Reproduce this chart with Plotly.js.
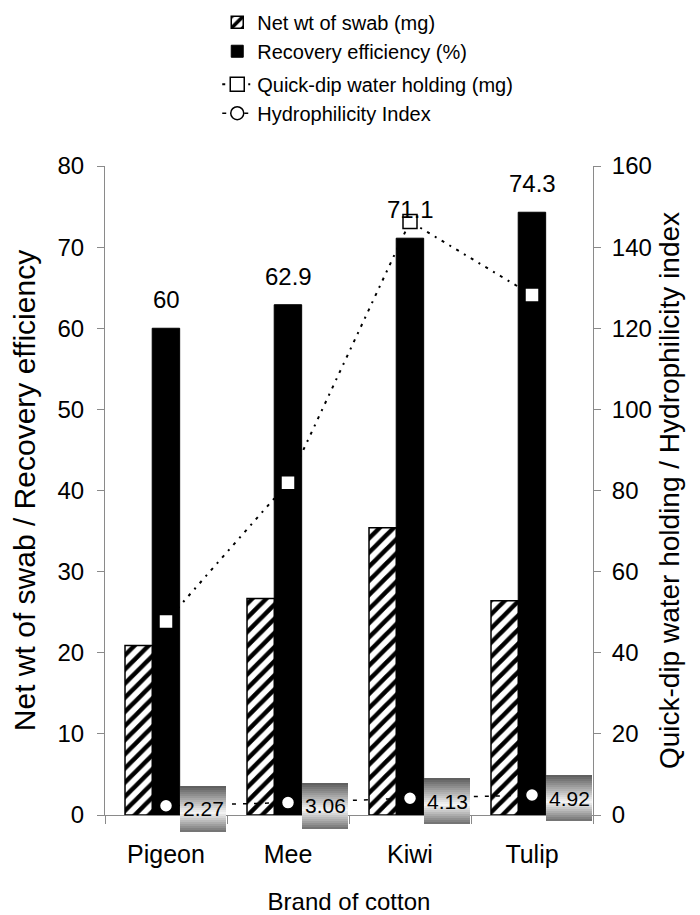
<!DOCTYPE html>
<html><head><meta charset="utf-8">
<script src="https://cdn.plot.ly/plotly-3.0.1.min.js"></script>
<style>html,body{margin:0;padding:0;background:#fff}</style>
</head><body>
<div id="chart" style="width:700px;height:915px"></div>
<script>
// ---- data ----
const brands = ['Pigeon', 'Mee', 'Kiwi', 'Tulip'];
const netWt = [20.9, 26.7, 35.4, 26.4];          // Net wt of swab (mg)
const recovery = [60, 62.9, 71.1, 74.3];         // Recovery efficiency (%)
const quickDip = [47.7, 81.9, 146.3, 128.2];     // Quick-dip water holding (mg)
const hydro = [2.27, 3.06, 4.13, 4.92];          // Hydrophilicity Index
const leftTicks = [0, 10, 20, 30, 40, 50, 60, 70, 80];
const rightTicks = [0, 20, 40, 60, 80, 100, 120, 140, 160];

// ---- styles ----
const SANS = '"Liberation Sans", Arial, sans-serif';
const AXIS_GRAY = '#8a8a8a';

const traces = [
  {
    type: 'bar', name: 'Net wt of swab (mg)', x: brands, y: netWt,
    offset: -0.336, width: 0.225, legendgroup: 'bars',
    marker: {
      color: 'white', line: {color: 'black', width: 1.5},
      pattern: {shape: '/', fgcolor: 'black', bgcolor: 'white', size: 10, solidity: 0.45}
    }
  },
  {
    type: 'bar', name: 'Recovery efficiency (%)', x: brands, y: recovery,
    offset: -0.113, width: 0.225, legendgroup: 'bars',
    marker: {color: 'black', line: {color: 'black', width: 1}}
  },
  {
    type: 'scatter', mode: 'lines+markers', name: 'Quick-dip water holding (mg)',
    x: brands, y: quickDip, yaxis: 'y2', legendgroup: 'lines',
    line: {color: 'black', width: 2, dash: '3px,6px,2px,6px'},
    marker: {symbol: 'square', size: 14, color: 'white', line: {color: 'black', width: 1.5}}
  },
  {
    type: 'scatter', mode: 'lines+markers', name: 'Hydrophilicity Index',
    x: brands, y: hydro, yaxis: 'y2', legendgroup: 'lines',
    line: {color: 'black', width: 1.5, dash: '4px,7px'},
    marker: {symbol: 'circle', size: 13, color: 'white', line: {color: 'black', width: 1.5}}
  }
];

const annotations = [];
// value labels above recovery bars
recovery.forEach((v, i) => {
  annotations.push({
    x: brands[i], y: v, xref: 'x', yref: 'y', text: String(v), showarrow: false,
    yanchor: 'bottom', yshift: 13, font: {family: SANS, size: 24, color: 'black'}
  });
});
// gradient label boxes for hydrophilicity index
const BOX_W = 46, BOX_H = 46, STRIPS = 23, XS = 37, YS = -3;
const stripH = BOX_H / STRIPS;
function grayAt(t) {
  let l;
  if (t < 0.58) l = 90 + (245 - 90) * (t / 0.58);
  else l = 245 - (245 - 110) * ((t - 0.58) / 0.42);
  l = Math.round(l);
  return 'rgb(' + l + ',' + l + ',' + l + ')';
}
hydro.forEach((v, i) => {
  for (let k = 0; k < STRIPS; k++) {
    annotations.push({
      x: brands[i], y: v, xref: 'x', yref: 'y2', text: ' ', showarrow: false,
      width: BOX_W, height: k < STRIPS - 1 ? stripH + 1 : stripH,
      borderpad: 0, borderwidth: 0, bgcolor: grayAt((k + 0.5) / STRIPS),
      xshift: XS, yshift: YS + BOX_H / 2 - (k + 0.5) * stripH - (k < STRIPS - 1 ? 0.5 : 0),
      font: {size: 1}
    });
  }
  annotations.push({
    x: brands[i], y: v, xref: 'x', yref: 'y2', text: v.toFixed(2), showarrow: false,
    xshift: XS, yshift: YS, font: {family: SANS, size: 21, color: 'black'}
  });
});

const layout = {
  width: 700, height: 915,
  margin: {l: 105, r: 107, t: 166, b: 100, pad: 0},
  paper_bgcolor: 'white', plot_bgcolor: 'white',
  barmode: 'overlay',
  showlegend: true,
  legend: {
    x: 0.23, xanchor: 'left', yref: 'container', y: 0.997, yanchor: 'top',
    font: {family: SANS, size: 20, color: 'black'},
    tracegroupgap: 4, traceorder: 'grouped', bgcolor: 'rgba(0,0,0,0)'
  },
  xaxis: {
    type: 'category', range: [-0.5, 3.5],
    showline: true, linecolor: AXIS_GRAY, linewidth: 1,
    ticks: 'outside', tickson: 'boundaries', ticklen: 8, tickcolor: AXIS_GRAY,
    tickfont: {family: SANS, size: 25, color: 'black'}, ticklabelstandoff: 17,
    showgrid: false, zeroline: false,
    title: {text: 'Brand of cotton', standoff: 27, font: {family: SANS, size: 24, color: 'black'}}
  },
  yaxis: {
    range: [0, 80], tickvals: leftTicks,
    showline: true, linecolor: AXIS_GRAY, linewidth: 1,
    ticks: 'outside', ticklen: 7, tickcolor: AXIS_GRAY, ticklabelstandoff: 8,
    tickfont: {family: SANS, size: 24, color: 'black'},
    showgrid: false, zeroline: false,
    title: {text: 'Net wt of swab / Recovery efficiency', font: {family: SANS, size: 30, color: 'black'}}
  },
  yaxis2: {
    overlaying: 'y', side: 'right', range: [0, 160], tickvals: rightTicks,
    showline: true, linecolor: AXIS_GRAY, linewidth: 1,
    ticks: 'outside', ticklen: 7, tickcolor: AXIS_GRAY, ticklabelstandoff: 6,
    tickfont: {family: SANS, size: 24, color: 'black'},
    showgrid: false, zeroline: false,
    title: {text: 'Quick-dip water holding / Hydrophilicity index', font: {family: SANS, size: 28, color: 'black'}}
  },
  annotations: annotations
};

Plotly.newPlot('chart', traces, layout, {staticPlot: true, displayModeBar: false});
</script>
</body></html>
